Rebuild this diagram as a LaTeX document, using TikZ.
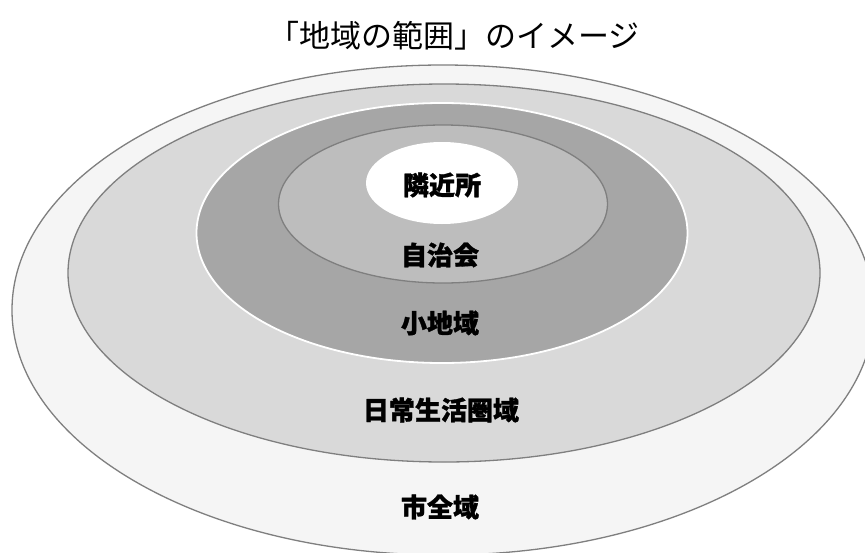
\documentclass[tikz,border=0pt]{standalone}
\usepackage{fontspec}
\setmainfont{Noto Sans CJK JP}[BoldFeatures={FakeBold=1.2}]
\usetikzlibrary{shapes.geometric}
\definecolor{ringA}{HTML}{F5F5F5}
\definecolor{ringB}{HTML}{D9D9D9}
\definecolor{ringC}{HTML}{A6A6A6}
\definecolor{ringD}{HTML}{BDBDBD}
\definecolor{edgegray}{HTML}{7F7F7F}
\tikzset{
  ring/.style={ellipse, inner sep=0pt, draw=edgegray, line width=1.3pt},
  lab/.style={font=\fontsize{26}{28}\selectfont\bfseries, text=black, inner sep=0pt},
}
\begin{document}
\begin{tikzpicture}[x=1pt,y=-1pt]
\useasboundingbox (0,0) rectangle (865,552);
\clip (0,0) rectangle (865,552);
\fill[white] (0,0) rectangle (865,552);
\node[font=\fontsize{31}{33}\selectfont, inner sep=0pt] (title) at (454,36) {「地域の範囲」のイメージ};
\node[ring, fill=ringA, minimum width=862, minimum height=490] (city) at (443,310) {};
\node[ring, fill=ringB, minimum width=752, minimum height=378] (daily) at (444,273) {};
\node[ring, fill=ringC, draw=white, line width=1.8pt, minimum width=491, minimum height=260] (small) at (442,233) {};
\node[ring, fill=ringD, minimum width=329, minimum height=158] (assoc) at (443,204) {};
\node[ellipse, inner sep=0pt, fill=white, minimum width=152, minimum height=82] (near) at (442,183) {};
\node[lab] (l1) at (442,185) {隣近所};
\node[lab] (l2) at (440,255) {自治会};
\node[lab] (l3) at (440,323) {小地域};
\node[lab] (l4) at (441,410) {日常生活圏域};
\node[lab] (l5) at (440,507) {市全域};
\end{tikzpicture}
\end{document}
